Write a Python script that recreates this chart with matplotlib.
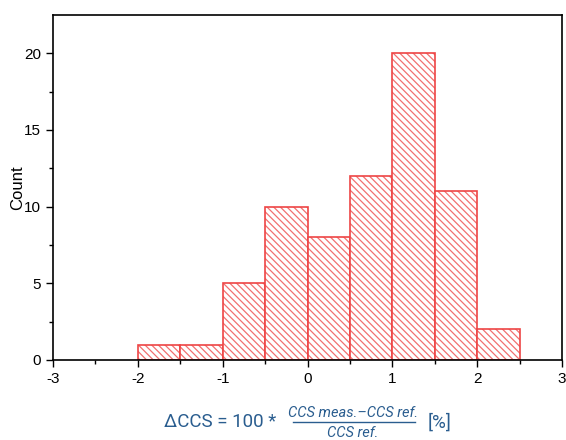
import matplotlib.pyplot as plt
from matplotlib.lines import Line2D

# histogram bins and counts
bin_edges = [-2.0, -1.5, -1.0, -0.5, 0.0, 0.5, 1.0, 1.5, 2.0, 2.5]
counts = [1, 1, 5, 10, 8, 12, 20, 11, 2]

x_ticks = [-3, -2, -1, 0, 1, 2, 3]
y_ticks = [0, 5, 10, 15, 20]

red = "#ee4545"
hatch_red = "#f27070"
blue = "#2a5d8f"

plt.rcParams.update({"font.family": "Liberation Sans", "hatch.linewidth": 0.9,
                     "axes.unicode_minus": False})

fig = plt.figure(figsize=(5.66, 4.40), dpi=100)
ax = fig.add_axes([0.0936, 0.182, 0.8994, 0.784])

for left, right, c in zip(bin_edges[:-1], bin_edges[1:], counts):
    # hatch layer, then the outline on top
    ax.bar(left, c, width=right - left, align="edge", facecolor="white",
           edgecolor=hatch_red, hatch="\\" * 5, linewidth=0)
    ax.bar(left, c, width=right - left, align="edge", facecolor="none",
           edgecolor=red, linewidth=1.2)

ax.set_xlim(-3, 3)
ax.set_ylim(0, 22.5)
ax.set_xticks(x_ticks)
ax.set_yticks(y_ticks)
ax.set_xticks([-2.5, -1.5, -0.5, 0.5, 1.5, 2.5], minor=True)
ax.set_yticks([2.5, 7.5, 12.5, 17.5], minor=True)
ax.tick_params(direction="out", length=5, width=1, labelsize=11)
ax.tick_params(which="minor", direction="out", length=3, width=1)
for s in ax.spines.values():
    s.set_linewidth(1.2)
ax.set_ylabel("Count", fontsize=12)
ax.yaxis.set_label_coords(-0.055, 0.5)

# x label drawn as a fraction
fig.text(0.29, 0.040, "\u0394CCS = 100 *", color=blue, fontsize=13.5,
         family="Roboto", va="center", ha="left")
fig.text(0.624, 0.061, "CCS meas.\u2013CCS ref.", color=blue, fontsize=10.5,
         family="Roboto", style="italic", va="center", ha="center")
fig.text(0.624, 0.016, "CCS ref.", color=blue, fontsize=10.5,
         family="Roboto", style="italic", va="center", ha="center")
fig.add_artist(Line2D([0.517, 0.733], [0.041, 0.041], color=blue, linewidth=1))
fig.text(0.755, 0.040, "[%]", color=blue, fontsize=13.5,
         family="Roboto", va="center", ha="left")

fig.savefig("out.png", dpi=100)
